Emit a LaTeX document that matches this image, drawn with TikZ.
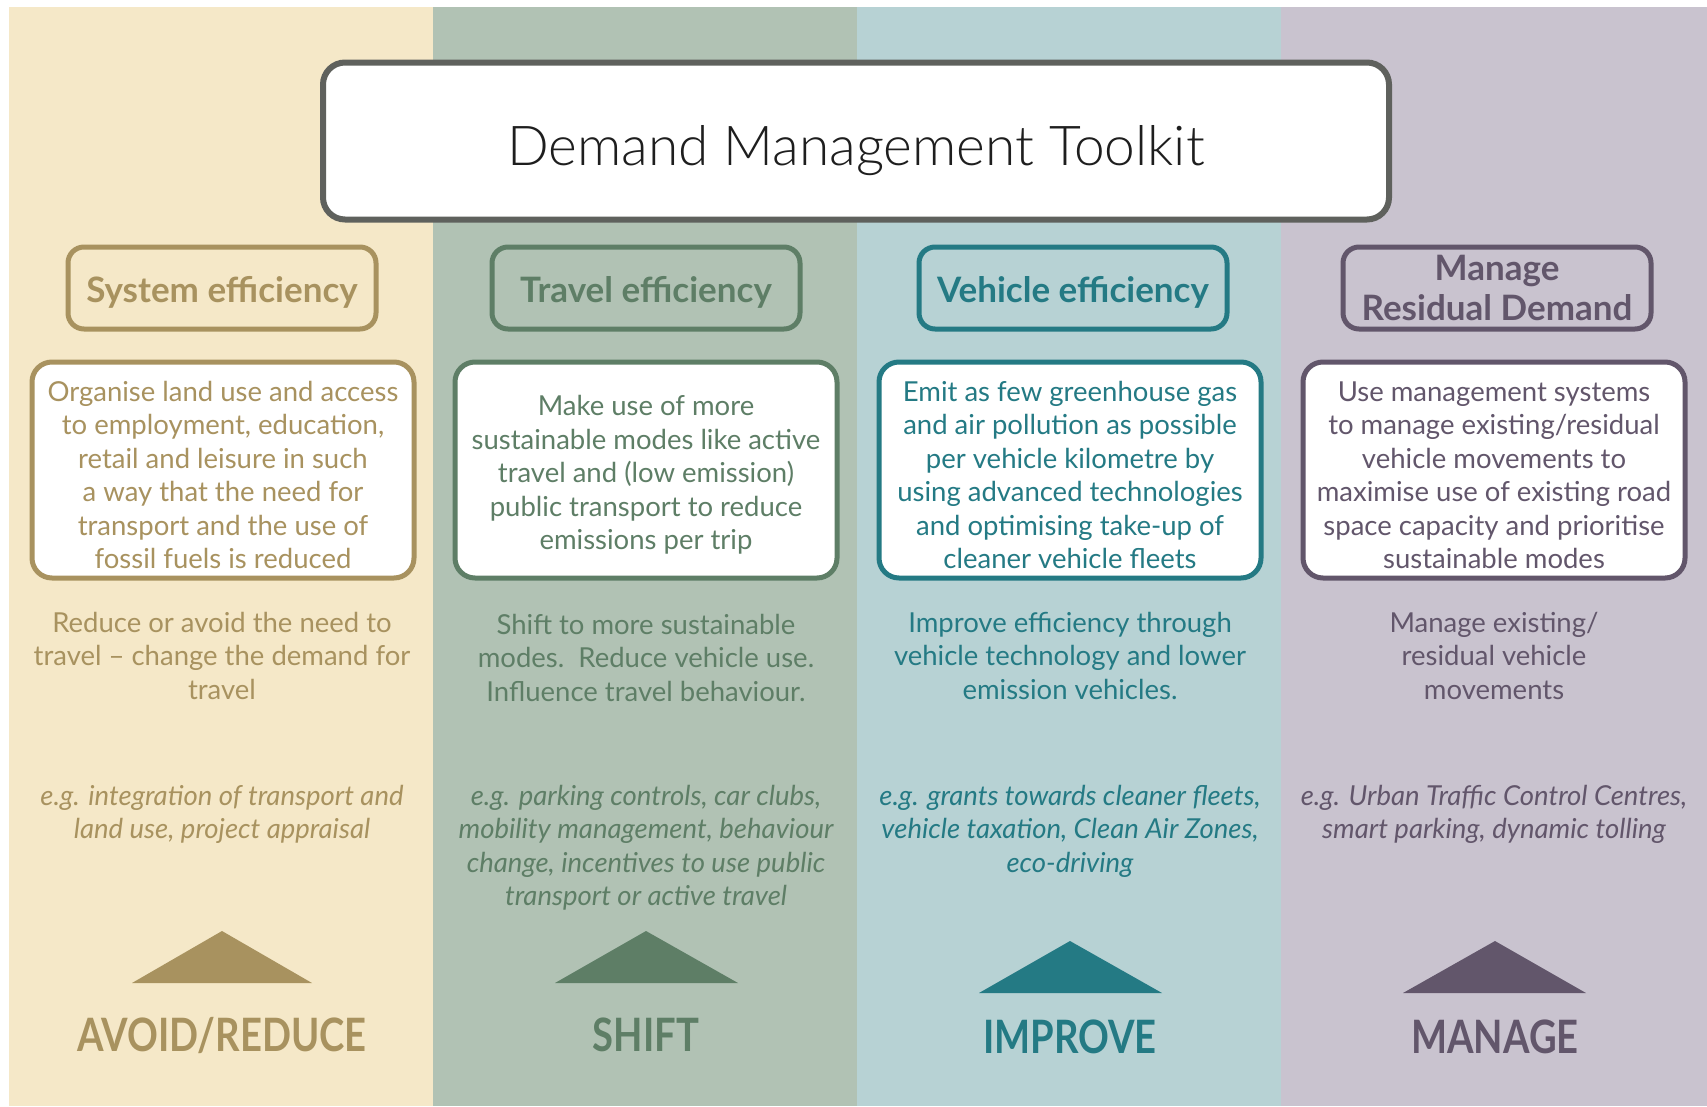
\documentclass[tikz,border=0pt]{standalone}
\usepackage{fontspec}
\setmainfont{Lato}
\newfontfamily\titlefont{Lato Light}
\newfontfamily\tagfamily[FakeStretch=0.83]{Lato}
\usepackage{tikz}
\usetikzlibrary{positioning}
\usepackage{xcolor}

\definecolor{avoidbg}{HTML}{F5E8C8}
\definecolor{avoidfg}{HTML}{A8925F}
\definecolor{shiftbg}{HTML}{B1C2B4}
\definecolor{shiftfg}{HTML}{5E7E66}
\definecolor{improvebg}{HTML}{B7D2D4}
\definecolor{improvefg}{HTML}{247A84}
\definecolor{managebg}{HTML}{C9C3CF}
\definecolor{managefg}{HTML}{62566B}
\definecolor{titleline}{HTML}{5F615D}
\definecolor{titletext}{HTML}{1E1E1E}

\newcommand{\bodyfont}{\fontsize{27.5}{33.5}\selectfont}
\newcommand{\headfont}{\fontsize{35}{40}\selectfont\bfseries}
\newcommand{\topgap}{\rule{0pt}{30pt}}

\begin{document}
\begin{tikzpicture}[
    x=1pt, y=-1pt,
    titlebox/.style={
        draw=titleline,
        fill=white,
        rounded corners=22pt,
        line width=6pt,
        minimum width=1066pt,
        minimum height=157pt,
        font=\titlefont\fontsize{55}{60}\selectfont,
        text=titletext
    },
    headbox/.style={
        draw=#1,
        text=#1,
        rounded corners=16pt,
        line width=5pt,
        minimum width=308pt,
        minimum height=82pt,
        inner sep=2pt,
        align=center,
        font=\headfont
    },
    oneline/.style={text height=28pt, text depth=0pt},
    descbox/.style={
        draw=#1,
        text=#1,
        fill=white,
        rounded corners=20pt,
        line width=5pt,
        minimum width=382pt,
        minimum height=216pt,
        inner sep=2pt,
        align=center,
        font=\bodyfont
    },
    summary/.style={anchor=north, inner sep=0pt, align=center, font=\bodyfont},
    example/.style={anchor=north, inner sep=0pt, align=center, font=\bodyfont\itshape},
    tag/.style={font=\tagfamily\fontsize{46}{50}\selectfont\bfseries}
]

\useasboundingbox (0,0) rectangle (1707,1106);

% ---------------- Columns ----------------
\fill[white] (0,0) rectangle (1707,1106);
\fill[avoidbg]   (9,7)    rectangle (433,1106);
\fill[shiftbg]   (433,7)  rectangle (857,1106);
\fill[improvebg] (857,7)  rectangle (1281,1106);
\fill[managebg]  (1281,7) rectangle (1707,1106);

% ---------------- Title ----------------
\node[titlebox] (toolkit) at (856,141)
    {\raisebox{-4pt}[\height][0pt]{Demand Management Toolkit}};

% ---------------- Headings ----------------
\node[headbox=avoidfg, oneline]   (sys)  at (222,288)  {System efficiency};
\node[headbox=shiftfg, oneline]   (trav) at (646,288)  {Travel efficiency};
\node[headbox=improvefg, oneline] (veh)  at (1073,288) {Vehicle efficiency};
\node[headbox=managefg]           (res)  at (1497,288) {Manage\\Residual Demand};

% ---------------- Descriptions ----------------
\node[descbox=avoidfg] (sysdesc) at (223,470)
    {\topgap Organise land use and access\\to employment, education,\\retail and leisure in such\\a way that the need for\\transport and the use of\\fossil fuels is reduced};
\node[descbox=shiftfg] (travdesc) at (646,470)
    {\topgap Make use of more\\sustainable modes like active\\travel and (low emission)\\public transport to reduce\\emissions per trip};
\node[descbox=improvefg] (vehdesc) at (1070,470)
    {\topgap Emit as few greenhouse gas\\and air pollution as possible\\per vehicle kilometre by\\using advanced technologies\\and optimising take-up of\\cleaner vehicle fleets};
\node[descbox=managefg] (resdesc) at (1494,470)
    {\topgap Use management systems\\to manage existing/residual\\vehicle movements to\\maximise use of existing road\\space capacity and prioritise\\sustainable modes};

% ---------------- Summaries ----------------
\node[summary, avoidfg]   (sysaim)  at (222,612)
    {Reduce or avoid the need to\\travel -- change the demand for\\travel};
\node[summary, shiftfg]   (travaim) at (646,614)
    {Shift to more sustainable\\modes.\ \ Reduce vehicle use.\\Influence travel behaviour.};
\node[summary, improvefg] (vehaim)  at (1070,612)
    {Improve efficiency through\\vehicle technology and lower\\emission vehicles.};
\node[summary, managefg]  (resaim)  at (1494,612)
    {Manage existing/\\residual vehicle\\movements};

% ---------------- Examples ----------------
\node[example, avoidfg]   (sysex)  at (222,785)
    {e.g. integration of transport and\\land use, project appraisal};
\node[example, shiftfg]   (travex) at (646,785)
    {e.g. parking controls, car clubs,\\mobility management, behaviour\\change, incentives to use public\\transport or active travel};
\node[example, improvefg] (vehex)  at (1070,785)
    {e.g. grants towards cleaner fleets,\\vehicle taxation, Clean Air Zones,\\eco-driving};
\node[example, managefg]  (resex)  at (1494,785)
    {e.g. Urban Traffic Control Centres,\\smart parking, dynamic tolling};

% ---------------- Triangles and tags ----------------
\fill[avoidfg]   (132,983)  -- (222,931)  -- (312,983)  -- cycle;
\fill[shiftfg]   (555,983)  -- (646,931)  -- (738,983)  -- cycle;
\fill[improvefg] (979,993)  -- (1070,941) -- (1162,993) -- cycle;
\fill[managefg]  (1403,993) -- (1495,941) -- (1586,993) -- cycle;

\node[tag, avoidfg]   (avoid)   at (222,1035)  {AVOID/REDUCE};
\node[tag, shiftfg]   (shift)   at (646,1035)  {SHIFT};
\node[tag, improvefg] (improve) at (1070,1037) {IMPROVE};
\node[tag, managefg]  (manage)  at (1495,1037) {MANAGE};

\end{tikzpicture}
\end{document}
